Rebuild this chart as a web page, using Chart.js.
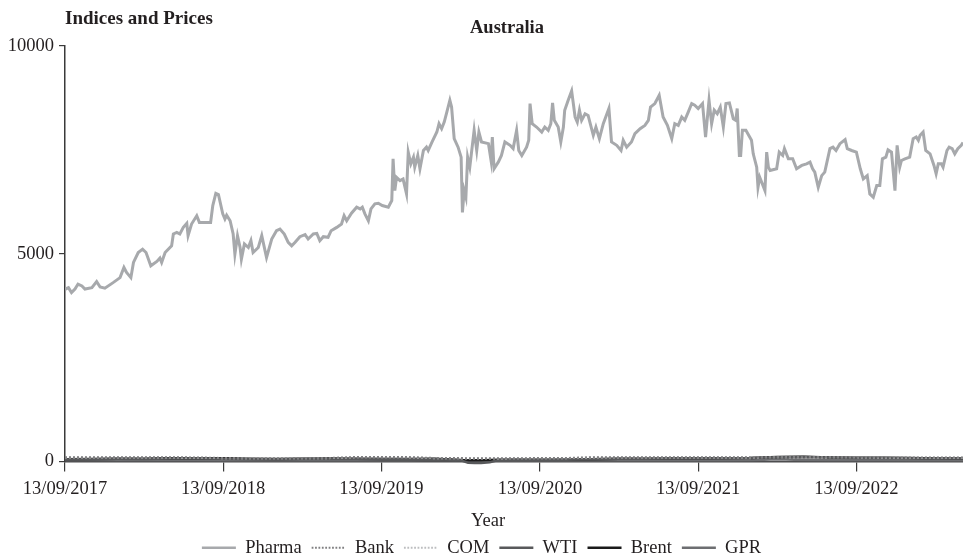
<!DOCTYPE html>
<html>
<head>
<meta charset="utf-8">
<title>Australia – Indices and Prices</title>
<script src="https://cdn.jsdelivr.net/npm/chart.js@4.4.1/dist/chart.umd.min.js"></script>
<style>
  html, body { margin: 0; padding: 0; background: #ffffff; }
  #wrap { width: 963px; height: 560px; position: relative; }
</style>
</head>
<body>
<div id="wrap"><canvas id="chart"></canvas></div>
<script>
// Day offsets are counted from 13/09/2017.
const START_UTC = Date.UTC(2017, 8, 13);
const LAST_DAY = 2072;

// Tick positions: every 13 September.
const yearTickDays = [0, 365, 730, 1096, 1461, 1826];
const yTickValues = [0, 5000, 10000];

// Pharma index
const pharmaDays = [
  0, 8, 15, 23, 30, 39, 46, 62, 73, 81, 92, 111, 127, 136, 142, 152, 158, 169, 179, 187,
  198, 212, 219, 223, 231, 246, 250, 258, 265, 273, 281, 284, 292, 304, 310, 319, 336, 341, 348, 354,
  364, 369, 373, 381, 388, 392, 398, 404, 407, 414, 423, 429, 434, 446, 454, 465, 477, 488, 496, 506,
  515, 523, 531, 542, 554, 561, 573, 581, 588, 596, 607, 614, 627, 638, 644, 650, 661, 673, 681, 686,
  692, 700, 706, 715, 723, 732, 746, 754, 757, 761, 765, 773, 780, 788, 792, 798, 804, 807, 814, 819,
  827, 834, 838, 847, 858, 863, 869, 875, 881, 888, 892, 898, 907, 914, 917, 921, 925, 929, 934, 944,
  950, 955, 961, 977, 983, 986, 990, 1000, 1007, 1015, 1027, 1034, 1042, 1047, 1054, 1065, 1070, 1073, 1078, 1088,
  1100, 1107, 1115, 1121, 1125, 1129, 1138, 1144, 1150, 1153, 1161, 1169, 1177, 1182, 1187, 1192, 1200, 1207, 1219, 1225,
  1233, 1242, 1255, 1261, 1273, 1283, 1288, 1296, 1307, 1315, 1327, 1338, 1346, 1351, 1361, 1371, 1380, 1390, 1400, 1407,
  1415, 1423, 1430, 1438, 1446, 1453, 1461, 1471, 1478, 1486, 1492, 1498, 1505, 1512, 1519, 1525, 1533, 1542, 1548, 1551,
  1556, 1559, 1563, 1571, 1584, 1588, 1596, 1599, 1603, 1615, 1619, 1623, 1627, 1642, 1648, 1656, 1660, 1669, 1679, 1688,
  1700, 1711, 1719, 1725, 1730, 1738, 1746, 1753, 1765, 1772, 1779, 1788, 1800, 1805, 1815, 1826, 1835, 1842, 1851, 1857,
  1865, 1873, 1880, 1886, 1894, 1899, 1907, 1915, 1920, 1926, 1930, 1938, 1949, 1957, 1964, 1969, 1973, 1980, 1986, 1996,
  2005, 2010, 2015, 2022, 2026, 2035, 2040, 2047, 2053, 2060, 2068, 2072
];
const pharmaValues = [
  4145, 4185, 4065, 4150, 4270, 4225, 4150, 4185, 4330, 4200, 4170, 4305, 4425, 4670, 4550, 4425, 4790, 5030, 5110, 5030,
  4710, 4815, 4895, 4790, 5030, 5190, 5475, 5515, 5475, 5635, 5730, 5435, 5715, 5915, 5755, 5755, 5755, 6160, 6455, 6425,
  5960, 5835, 5930, 5795, 5475, 4990, 5435, 5150, 4870, 5235, 5150, 5315, 5030, 5150, 5435, 4910, 5355, 5555, 5595, 5475,
  5275, 5190, 5275, 5410, 5460, 5355, 5475, 5490, 5315, 5410, 5395, 5555, 5635, 5715, 5915, 5795, 5975, 6120, 6080, 6120,
  5960, 5795, 6080, 6200, 6215, 6160, 6120, 6280, 7285, 6520, 6840, 6760, 6800, 6440, 7445, 7165, 7325, 7085, 7365, 7045,
  7485, 7565, 7485, 7690, 7930, 8130, 8010, 8170, 8410, 8695, 8530, 7770, 7565, 7325, 5995, 6520, 6360, 7325, 7085, 7970,
  7485, 7930, 7690, 7650, 7245, 7810, 7045, 7210, 7365, 7690, 7610, 7530, 7970, 7485, 7365, 7565, 7730, 8615, 8130, 8050,
  7930, 8050, 7970, 8130, 8630, 8210, 8050, 7690, 8050, 8455, 8695, 8920, 8290, 8170, 8455, 8210, 8370, 8330, 7850, 8050,
  7770, 8130, 8495, 7690, 7610, 7485, 7730, 7565, 7690, 7890, 8010, 8090, 8210, 8530, 8615, 8815, 8290, 8090, 7770, 8130,
  8090, 8290, 8210, 8410, 8615, 8575, 8495, 8615, 7810, 8695, 8130, 8455, 8370, 8530, 8050, 8615, 8630, 8250, 8210, 8495,
  7365, 7365, 7970, 7970, 7730, 7405, 7085, 6600, 6840, 6520, 7445, 7085, 7005, 7045, 7445, 7365, 7530, 7285, 7285, 7045,
  7125, 7165, 7205, 7045, 6965, 6600, 6880, 6965, 7530, 7565, 7485, 7650, 7745, 7530, 7485, 7445, 7045, 6800, 6880, 6440,
  6360, 6640, 6640, 7285, 7325, 7500, 7445, 6520, 7610, 7085, 7245, 7285, 7325, 7770, 7810, 7730, 7850, 7930, 7485, 7405,
  7125, 6925, 7165, 7165, 7085, 7485, 7565, 7530, 7405, 7530, 7610, 7680
];

// Smaller series sampled roughly every two months
const sampleDays = [
  0, 61, 122, 182, 243, 304, 365, 426, 487, 547, 608, 669, 730, 791, 852, 912, 930, 945, 960, 980,
  1000, 1035, 1096, 1157, 1218, 1278, 1339, 1400, 1461, 1522, 1583, 1643, 1704, 1765, 1826, 1887, 1948, 2009, 2072
];
const bankValues = [
  104, 105, 104, 104, 102, 98, 84, 80, 80, 82, 84, 108, 110, 108, 85, 82, 80, 78, 78, 80,
  80, 80, 82, 84, 104, 104, 105, 104, 104, 105, 104, 110, 96, 108, 108, 98, 96, 95, 95
];
const comValues = [
  95, 96, 96, 95, 94, 92, 80, 76, 76, 78, 80, 100, 102, 100, 80, 75, 72, 70, 70, 72,
  74, 76, 78, 80, 96, 98, 98, 97, 97, 98, 97, 104, 92, 100, 100, 92, 90, 90, 90
];
const wtiValues = [
  49, 57, 64, 61, 71, 71, 69, 57, 52, 58, 62, 60, 58, 57, 58, 32, -30, -37, -35, -20,
  38, 40, 37, 41, 52, 65, 65, 72, 70, 78, 82, 103, 110, 96, 87, 85, 78, 68, 72
];
const brentValues = [
  55, 62, 69, 65, 79, 75, 78, 67, 60, 67, 71, 64, 60, 62, 64, 34, 23, 28, 25, 35,
  40, 43, 40, 43, 55, 69, 68, 75, 73, 81, 84, 107, 112, 99, 91, 93, 82, 75, 75
];
const gprValues = [
  35, 38, 30, 32, 30, 28, 27, 25, 27, 26, 25, 24, 26, 25, 40, 28, 30, 28, 26, 26,
  25, 24, 25, 24, 24, 25, 24, 26, 25, 26, 28, 55, 38, 32, 30, 28, 26, 25, 26
];

const seriesNames = ['Pharma', 'Bank', 'COM', 'WTI', 'Brent', 'GPR'];

const FONT = '"Liberation Serif", "Times New Roman", serif';
const TEXT = '#231f20';

function toPoints(days, values) {
  return days.map((d, i) => ({ x: d, y: values[i] }));
}

function dayLabel(day) {
  const d = new Date(START_UTC + day * 86400000);
  const dd = String(d.getUTCDate()).padStart(2, '0');
  const mm = String(d.getUTCMonth() + 1).padStart(2, '0');
  return dd + '/' + mm + '/' + d.getUTCFullYear();
}

// Headings and the x-axis caption
const captions = {
  id: 'captions',
  afterDraw(chart) {
    const ctx = chart.ctx;
    ctx.save();
    ctx.fillStyle = TEXT;
    ctx.textBaseline = 'middle';
    ctx.font = 'bold 19px ' + FONT;
    ctx.textAlign = 'left';
    ctx.fillText('Indices and Prices', 65, 19);
    ctx.font = 'bold 18.5px ' + FONT;
    ctx.textAlign = 'center';
    ctx.fillText('Australia', 507, 28);
    ctx.font = '18.5px ' + FONT;
    ctx.fillText('Year', 488, 521);
    ctx.restore();
  }
};

const line = (label, days, values, color, width, dash, extra) => Object.assign({
  label,
  data: toPoints(days, values),
  borderColor: color,
  backgroundColor: color,
  borderWidth: width,
  borderDash: dash,
  pointRadius: 0,
  tension: 0,
  fill: false
}, extra || {});

// Legend swatches are short line segments in each series' own stroke style
function lineLegendLabels(chart) {
  return chart.data.datasets.map((ds, i) => ({
    text: ds.label,
    datasetIndex: i,
    hidden: !chart.isDatasetVisible(i),
    fillStyle: ds.borderColor,
    strokeStyle: ds.borderColor,
    fontColor: TEXT,
    lineWidth: ds.borderDash.length ? 1.8 : 2.5,
    lineDash: ds.borderDash.length ? [1.8, 1.6] : [],
    lineCap: 'butt',
    pointStyle: 'line'
  }));
}

new Chart(document.getElementById('chart'), {
  type: 'line',
  data: {
    datasets: [
      line(seriesNames[0], pharmaDays, pharmaValues, '#a7a9ac', 3, []),
      line(seriesNames[1], sampleDays, bankValues, '#808082', 2, [2, 2]),
      line(seriesNames[2], sampleDays, comValues, '#bdbec0', 2, [2, 2]),
      line(seriesNames[3], sampleDays, wtiValues, '#58595b', 2.5, [], { clip: false }),
      line(seriesNames[4], sampleDays, brentValues, '#1a1a1a', 2.5, []),
      line(seriesNames[5], sampleDays, gprValues, '#6d6e71', 2.5, [])
    ]
  },
  options: {
    responsive: true,
    maintainAspectRatio: false,
    animation: false,
    events: [],
    devicePixelRatio: 1,
    layout: { padding: { left: 0, right: 0, top: 46, bottom: -7 } },
    scales: {
      x: {
        type: 'linear',
        min: 0,
        max: LAST_DAY,
        afterBuildTicks(scale) {
          scale.ticks = yearTickDays.map(v => ({ value: v }));
        },
        afterFit(scale) { scale.height = 67; },
        grid: { drawOnChartArea: false, drawTicks: true, tickLength: 10, color: '#3a3a3a', lineWidth: 1.2 },
        border: { display: true, color: '#4d4d4f', width: 1.5 },
        ticks: {
          autoSkip: false,
          maxRotation: 0,
          padding: 7,
          color: TEXT,
          font: { family: FONT, size: 18.5 },
          callback: (v) => dayLabel(v)
        }
      },
      y: {
        min: 0,
        max: 10000,
        afterBuildTicks(scale) {
          scale.ticks = yTickValues.map(v => ({ value: v }));
        },
        afterFit(scale) { scale.width = 65; },
        grid: { drawOnChartArea: false, drawTicks: true, tickLength: 6, color: '#3a3a3a', lineWidth: 1.2 },
        border: { display: true, color: '#3a3a3a', width: 1.5 },
        ticks: {
          padding: 5,
          color: TEXT,
          font: { family: FONT, size: 18.5 },
          callback: (v) => String(v)
        }
      }
    },
    plugins: {
      title: { display: false },
      tooltip: { enabled: false },
      legend: {
        display: true,
        position: 'bottom',
        labels: {
          usePointStyle: true,
          pointStyle: 'line',
          pointStyleWidth: 34,
          boxHeight: 18,
          padding: 10,
          color: TEXT,
          font: { family: FONT, size: 18.5 },
          generateLabels: lineLegendLabels
        }
      }
    }
  },
  plugins: [captions]
});
</script>
</body>
</html>
